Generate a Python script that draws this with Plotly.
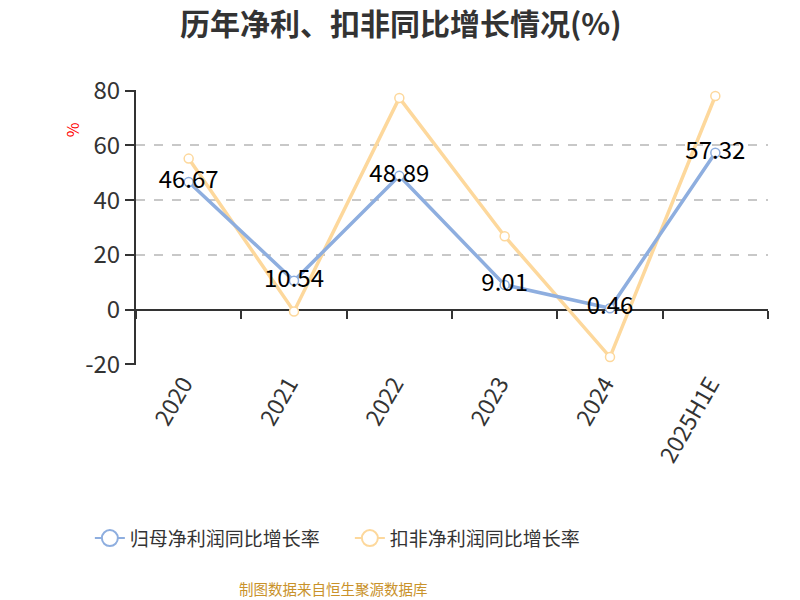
import plotly.graph_objects as go

categories = ["2020", "2021", "2022", "2023", "2024", "2025H1E"]
net_profit_growth = [46.67, 10.54, 48.89, 9.01, 0.46, 57.32]
deducted_growth = [55.2, -0.7, 77.4, 26.8, -17.4, 78.1]
labels = ["46.67", "10.54", "48.89", "9.01", "0.46", "57.32"]
series_names = ["归母净利润同比增长率", "扣非净利润同比增长率"]
colors = ["#8eaedf", "#fdd89c"]
FONT = "Noto Sans CJK SC, Microsoft YaHei, sans-serif"
Y_RANGE = [-20.3, 80.3]

fig = go.Figure()

fig.add_trace(go.Scatter(
    x=categories, y=deducted_growth, mode="lines+markers",
    line=dict(color=colors[1], width=3.5),
    marker=dict(symbol="circle", size=9, color="white", line=dict(color=colors[1], width=1.5)),
    showlegend=False, name=series_names[1]))
fig.add_trace(go.Scatter(
    x=categories, y=net_profit_growth, mode="lines+markers+text",
    line=dict(color=colors[0], width=3.5),
    marker=dict(symbol="circle", size=9, color="white", line=dict(color=colors[0], width=1.5)),
    text=labels, textposition="middle center",
    textfont=dict(size=24, color="#000000", family=FONT),
    showlegend=False, name=series_names[0]))

# legend-only traces
for nm, c in zip(series_names, colors):
    fig.add_trace(go.Scatter(
        x=[None], y=[None], mode="lines+markers", name=nm,
        line=dict(color=c, width=2),
        marker=dict(symbol="circle", size=19, color="white", line=dict(color=c, width=2))))

# dummy trace for the zero-line tick axis
fig.add_trace(go.Scatter(x=categories, y=[0]*len(categories), xaxis="x2",
                         mode="lines", line=dict(width=0), opacity=0,
                         showlegend=False, hoverinfo="skip"))

zero_pos = (0 - Y_RANGE[0]) / (Y_RANGE[1] - Y_RANGE[0])

fig.update_layout(
    width=800, height=600,
    paper_bgcolor="white", plot_bgcolor="white",
    margin=dict(l=136, r=32, t=90, b=235),
    font=dict(family=FONT, color="#333333"),
    title=dict(text="<b>历年净利、扣非同比增长情况(%)</b>", x=0.501, xanchor="center",
               y=0.96, yanchor="middle", font=dict(size=30, color="#333333", family=FONT)),
    xaxis=dict(type="category", categoryorder="array", categoryarray=categories,
               showline=False, showgrid=False, ticks="", tickangle=-60,
               ticklabelshift=-5,
               tickfont=dict(size=23, color="#333333"), range=[-0.5, 5.5]),
    xaxis2=dict(type="category", categoryorder="array", categoryarray=categories,
                overlaying="x", anchor="free", position=zero_pos, side="bottom",
                showline=False, showgrid=False, ticks="outside", ticklen=8, tickwidth=2,
                tickcolor="#333333", tickson="boundaries", showticklabels=False,
                range=[-0.5, 5.5]),
    yaxis=dict(range=Y_RANGE, tickvals=[-20, 0, 20, 40, 60, 80],
               ticktext=["-20", "0", "20", "40", "60", "80"],
               showline=True, linecolor="#333333", linewidth=2,
               ticks="outside", ticklen=9, tickwidth=2, tickcolor="#333333",
               showgrid=True, gridcolor="#c8c8c8", griddash="dash", gridwidth=1.5,
               zeroline=True, zerolinecolor="#333333", zerolinewidth=2,
               tickfont=dict(size=24, color="#333333")),
    legend=dict(orientation="h", x=-0.073, xanchor="left", y=-0.63, yanchor="middle",
                entrywidth=215, entrywidthmode="pixels",
                font=dict(size=19, color="#333333"), bgcolor="rgba(0,0,0,0)"),
    annotations=[
        dict(text="%", xref="paper", yref="paper", x=-0.101, y=0.854, showarrow=False,
             xanchor="center", yanchor="middle",
             textangle=-90, font=dict(size=16, color="#ff0000")),
        dict(text="制图数据来自恒生聚源数据库", xref="paper", yref="paper",
             x=0.313, y=-0.814, xanchor="center", yanchor="middle", showarrow=False,
             font=dict(size=14.5, color="#c9922a")),
    ],
)

fig.write_html("out.html", config={"displayModeBar": False},
               post_script="document.body.style.margin='0';document.body.style.padding='0';")
